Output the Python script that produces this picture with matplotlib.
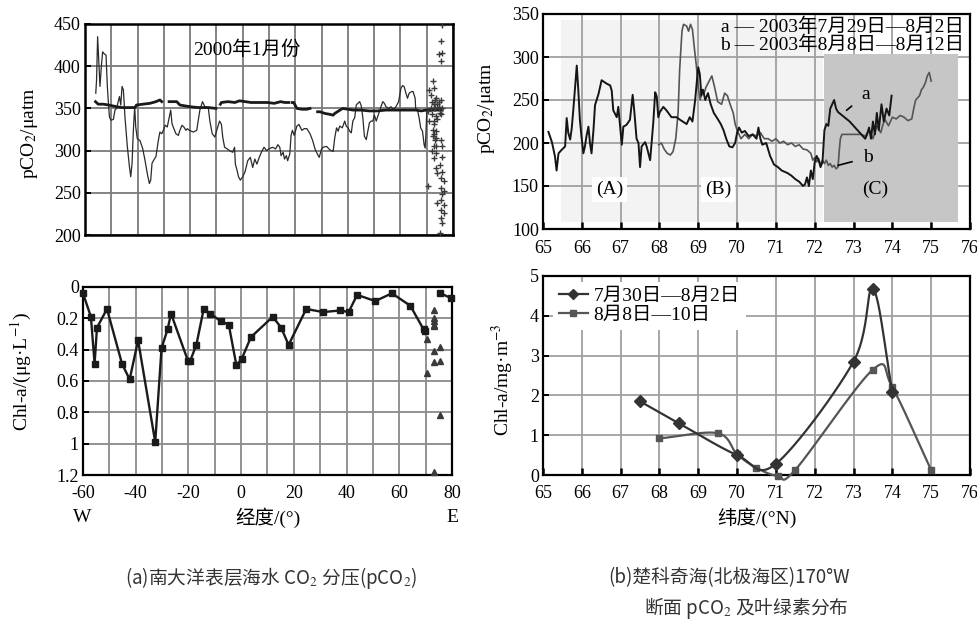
import numpy as np
import matplotlib
matplotlib.use('Agg')
import matplotlib.pyplot as plt
from matplotlib.lines import Line2D
from matplotlib.patches import Rectangle

plt.rcParams['font.family'] = ['Liberation Serif', 'Noto Sans CJK SC', 'DejaVu Sans']
plt.rcParams['mathtext.fontset'] = 'stix'
plt.rcParams['axes.unicode_minus'] = False

MIX = ['Liberation Serif', 'Noto Sans CJK SC']
CJK = 'Noto Sans CJK SC'

# ---------------- (a) Southern Ocean, January 2000 ----------------
# seawater pCO2 along the cruise track (thin trace)
sw_lon = [-55.9, -55.6, -55.2, -54.7, -54.3, -53.8, -53.3, -52.8, -52.0, -51.5,
          -51.0, -50.7, -50.2, -49.2, -48.6, -48.0, -46.9, -46.4, -45.9, -45.4,
          -44.8, -43.9, -43.1, -42.6, -42.1, -41.6, -41.1, -40.7, -40.1, -39.1,
          -38.1, -37.2, -36.2, -35.5, -35.0, -34.5, -33.8, -33.0, -32.1, -31.5,
          -30.8, -30.2, -29.5, -28.7, -27.9, -27.4, -26.9, -26.2, -25.4, -24.5,
          -23.9, -23.1, -22.4, -21.6, -21.1, -20.3, -18.8, -17.5, -16.9, -16.3,
          -15.3, -14.4, -13.1, -12.5, -11.6, -10.6, -9.6, -8.8, -8.1, -7.6,
          -6.9, -5.9, -5.0, -3.8, -3.1, -2.8, -2.1, -1.6, -0.9, 0.0,
          0.9, 1.9, 2.9, 3.8, 4.6, 5.4, 6.3, 7.1, 8.1, 9.1,
          10.0, 11.3, 12.5, 13.4, 14.1, 14.6, 15.4, 15.9, 16.6, 17.1,
          17.9, 18.4, 18.9, 19.6, 20.6, 21.4, 22.5, 23.4, 24.4, 25.6,
          26.6, 27.5, 28.4, 29.1, 30.0, 30.6, 31.9, 33.1, 34.4, 35.0,
          35.7, 36.3, 36.9, 37.9, 38.8, 39.4, 40.1, 40.7, 41.3, 41.9,
          42.6, 43.2, 43.8, 44.5, 45.1, 45.7, 46.3, 47.0, 47.6, 48.2,
          48.9, 49.5, 50.1, 50.8, 51.4, 52.0, 52.6, 53.3, 53.9, 54.5,
          55.5, 56.4, 57.3, 58.3, 59.3, 60.2, 60.8, 61.4, 62.1, 62.7,
          63.3, 64.3, 64.8, 65.6, 65.8, 66.5, 67.1, 67.7, 68.4, 69.0,
          69.4, 69.7, 70.0, 70.5]
sw_pco2 = [368, 384, 435, 403, 376, 399, 417, 415, 413, 376,
           352, 340, 336, 337, 348, 350, 364, 354, 376, 372,
           340, 305, 281, 269, 285, 324, 352, 328, 314, 312,
           303, 289, 271, 261, 265, 285, 289, 293, 312, 322,
           320, 324, 330, 328, 340, 348, 332, 326, 320, 318,
           324, 330, 328, 324, 326, 324, 322, 324, 336, 348,
           358, 352, 351, 335, 320, 316, 327, 335, 331, 316,
           304, 302, 300, 298, 304, 284, 276, 269, 265, 269,
           275, 288, 292, 280, 290, 284, 292, 298, 304, 300,
           302, 304, 302, 307, 304, 294, 298, 290, 294, 288,
           296, 318, 324, 318, 329, 331, 324, 326, 326, 320,
           312, 302, 296, 292, 302, 304, 305, 301, 299, 315,
           327, 323, 329, 327, 335, 329, 327, 323, 321, 335,
           339, 354, 356, 358, 353, 339, 317, 313, 323, 333,
           335, 335, 342, 335, 341, 346, 352, 358, 356, 352,
           350, 352, 349, 352, 358, 374, 377, 376, 368, 362,
           368, 370, 370, 362, 350, 348, 339, 327, 323, 307,
           303, 320, 345, 350]

# atmospheric pCO2 (thick trace, gaps where no record)
air_lon = [-56.0, -55.0, -53.0, -51.0, -48.0, -46.0, -43.0, -41.0, -40.4, -38.0,
           -35.3, -33.0, -31.5, -30.8, np.nan,
           -28.0, -27.0, -25.1, -23.9, -22.0, -20.0, -17.0, -15.6, -13.0, -10.2, np.nan,
           -8.5, -8.1, -5.6, -3.0, -1.2, 1.0, 3.1, 6.0, 9.4, 12.0, 14.4, 16.0, 17.5, np.nan,
           18.8, 19.4, 20.6, 22.5, 24.4, 25.6, np.nan,
           28.5, 29.4, 31.3, 33.1, 34.4, 35.0, 38.0, 42.0, 45.0, 48.2, 51.0, 54.5,
           57.0, 59.6, 62.0, 65.8, 68.0, 69.6, 72.0, 75.9]
air_pco2 = [358, 355, 355, 354, 352, 351, 351, 351, 354, 355,
            356, 358, 360, 358, np.nan,
            358, 358, 358, 354, 353, 352, 351, 351, 351, 350, np.nan,
            355, 357, 358, 357, 359, 358, 357, 357, 357, 356, 358, 357, 357, np.nan,
            357, 357, 350, 349, 349, 350, np.nan,
            346, 346, 344, 343, 342, 344, 350, 348, 348, 347, 347, 348,
            348, 348, 348, 348, 347, 348, 348, 348]

# discrete samples near the eastern end
pt_lon = [75.75, 75.4, 74.5, 76.0, 75.4, 72.25, 72.9, 71.0, 71.6, 73.5,
          74.75, 75.4, 74.1, 72.6, 71.6, 73.1, 74.75, 76.0, 70.4, 72.0,
          73.5, 75.4, 71.0, 74.1, 72.6, 73.5, 72.25, 73.1, 75.4, 72.9,
          76.0, 71.9, 73.5, 72.9, 76.0, 75.1, 73.5, 76.0, 74.1, 75.6,
          76.4, 70.6, 75.4, 76.6, 76.0, 75.6, 74.1, 76.4, 75.4, 76.4,
          75.6, 76.0, 75.1, 72.6, 72.6, 72.6, 73.5, 73.5, 72.25, 74.5,
          75.0, 73.0, 72.0]
pt_pco2 = [449, 430, 414, 416, 406, 382, 374, 372, 366, 362,
           358, 360, 355, 355, 350, 350, 350, 350, 347, 343,
           341, 343, 335, 337, 331, 323, 317, 313, 313, 305,
           305, 299, 297, 291, 293, 283, 279, 275, 274, 268,
           264, 258, 256, 252, 248, 242, 238, 236, 230, 226,
           220, 214, 202, 320, 335, 350, 305, 315, 325, 352,
           345, 360, 357]

# chlorophyll-a along the same section
chl_lon = [-60, -57, -55.6, -54.7, -50.9, -45.2, -42.3, -39.1, -32.6, -30.2,
           -27.9, -26.6, -20.2, -19.3, -17, -14.2, -11.7, -7.6, -4.7, -1.8,
           0.2, 3.7, 12, 15.2, 18, 24.7, 31, 37.6, 40.8, 44,
           50.9, 57.2, 64.2, 69.2, 69.6]
chl_val = [0.04, 0.19, 0.49, 0.26, 0.14, 0.49, 0.59, 0.34, 0.99, 0.39,
           0.27, 0.17, 0.47, 0.47, 0.37, 0.14, 0.17, 0.22, 0.24, 0.50,
           0.46, 0.32, 0.19, 0.26, 0.37, 0.14, 0.16, 0.15, 0.16, 0.05,
           0.09, 0.04, 0.12, 0.27, 0.28]
chl_lon_e = [75.6, 79.5]
chl_val_e = [0.04, 0.07]
tri_lon = [73, 73, 73, 73, 73, 70.5, 73, 75.3, 73, 75.3, 70.5, 75.3, 73]
tri_val = [0.15, 0.20, 0.22, 0.24, 0.25, 0.33, 0.41, 0.38, 0.48, 0.47, 0.55, 0.82, 1.18]

# ---------------- (b) Chukchi Sea, 170°W section ----------------
lat_a = [65.14, 65.23, 65.31, 65.35, 65.40, 65.48, 65.57, 65.61, 65.65, 65.70,
         65.74, 65.78, 65.82, 65.87, 65.91, 65.95, 65.99, 66.04, 66.08, 66.12,
         66.17, 66.21, 66.25, 66.30, 66.34, 66.43, 66.51, 66.64, 66.73, 66.77,
         66.81, 66.90, 66.94, 66.98, 67.03, 67.07, 67.15, 67.24, 67.31, 67.35,
         67.41, 67.46, 67.50, 67.54, 67.63, 67.67, 67.76, 67.84, 67.89, 67.93,
         67.97, 68.01, 68.10, 68.18, 68.31, 68.44, 68.53, 68.60, 68.70, 68.78,
         68.85, 68.92, 68.97, 69.00, 69.04, 69.08, 69.12, 69.18, 69.25, 69.32,
         69.40, 69.50, 69.58, 69.65, 69.72, 69.80, 69.88, 69.95, 70.00, 70.05,
         70.12, 70.20, 70.30, 70.40, 70.50, 70.55, 70.60, 70.65, 70.75, 70.85,
         70.95, 71.05, 71.15, 71.30, 71.40, 71.50, 71.60, 71.70, 71.75, 71.80,
         71.85, 71.90, 71.95, 72.00, 72.05, 72.10, 72.15, 72.20, 72.25, 72.30,
         72.35, 72.40, 72.45, 72.50, 72.55, 72.60, 72.90, 73.20, 73.30, 73.35,
         73.40, 73.45, 73.50, 73.55, 73.60, 73.65, 73.72, 73.78, 73.85, 73.92,
         73.98]
pco2_a = [213, 201, 184, 168, 188, 192, 196, 229, 212, 204,
          217, 238, 261, 290, 261, 227, 208, 188, 196, 208,
          219, 200, 188, 215, 244, 257, 273, 269, 267, 261,
          238, 230, 242, 223, 198, 219, 221, 227, 256, 238,
          205, 200, 172, 196, 201, 196, 180, 223, 259, 254,
          230, 236, 242, 238, 230, 230, 227, 225, 222, 230,
          225, 250, 275, 288, 280, 255, 262, 250, 258, 245,
          235, 228, 222, 215, 205, 196, 195, 200, 212, 218,
          212, 214, 208, 210, 205, 218, 205, 198, 200, 185,
          175, 172, 168, 165, 162, 158, 155, 150, 152, 160,
          150, 168, 158, 178, 185, 180, 172, 178, 215, 222,
          220, 240, 245, 250, 240, 236, 225, 210, 205, 210,
          218, 205, 225, 210, 235, 215, 245, 225, 240, 232,
          255]

lat_b = [67.98, 68.05, 68.12, 68.20, 68.28, 68.35, 68.42, 68.48, 68.52, 68.58,
         68.62, 68.70, 68.75, 68.80, 68.85, 68.90, 68.95, 69.00, 69.05, 69.10,
         69.15, 69.20, 69.28, 69.35, 69.42, 69.50, 69.60, 69.68, 69.75, 69.82,
         69.90, 69.95, 70.00, 70.05, 70.10, 70.20, 70.30, 70.40, 70.50, 70.60,
         70.70, 70.80, 70.90, 71.00, 71.10, 71.20, 71.30, 71.40, 71.50, 71.60,
         71.70, 71.80, 71.90, 71.95, 72.00, 72.05, 72.10, 72.15, 72.20, 72.25,
         72.30, 72.35, 72.40, 72.45, 72.50, 72.55, 72.60, 72.63, 72.66, 72.70,
         72.80, 73.00, 73.20, 73.30, 73.40, 73.50, 73.60, 73.70, 73.80, 73.90,
         74.00, 74.10, 74.20, 74.30, 74.40, 74.50, 74.55, 74.60, 74.70, 74.75,
         74.80, 74.85, 74.90, 74.95, 75.00]
pco2_b = [198, 200, 193, 188, 186, 190, 205, 235, 285, 330,
          338, 336, 330, 338, 332, 310, 290, 265, 250, 262,
          258, 265, 272, 278, 265, 248, 245, 258, 255, 245,
          235, 222, 215, 210, 205, 210, 205, 210, 208, 212,
          205, 205, 202, 205, 200, 202, 198, 200, 196, 198,
          193, 192, 188, 180, 183, 178, 182, 175, 180, 176,
          180, 174, 176, 172, 174, 170, 172, 190, 205, 210,
          210, 210, 210, 208, 215, 205, 220, 212, 228, 220,
          230, 228, 232, 230, 226, 228, 240, 250, 255, 262,
          265, 270, 278, 282, 272]

# chlorophyll-a at the stations
st_lat_1 = [67.5, 68.5, 70.0, 71.0, 73.0, 73.5, 74.0]
st_chl_1 = [1.85, 1.30, 0.50, 0.28, 2.85, 4.68, 2.08]
st_lat_2 = [68.0, 69.5, 70.0, 70.5, 71.05, 71.5, 73.5, 74.0, 75.0]
st_chl_2 = [0.92, 1.05, 0.52, 0.18, -0.02, 0.13, 2.65, 2.20, 0.12]

assert len(sw_lon) == len(sw_pco2), (len(sw_lon), len(sw_pco2))
assert len(air_lon) == len(air_pco2), (len(air_lon), len(air_pco2))
assert len(pt_lon) == len(pt_pco2), (len(pt_lon), len(pt_pco2))
assert len(chl_lon) == len(chl_val)
assert len(lat_a) == len(pco2_a), (len(lat_a), len(pco2_a))
assert len(lat_b) == len(pco2_b), (len(lat_b), len(pco2_b))


def smooth(x, y, n=40):
    """Catmull-Rom curve through the station values."""
    x = np.asarray(x, float)
    y = np.asarray(y, float)
    px = np.concatenate([[2 * x[0] - x[1]], x, [2 * x[-1] - x[-2]]])
    py = np.concatenate([[2 * y[0] - y[1]], y, [2 * y[-1] - y[-2]]])
    t = np.linspace(0, 1, n, endpoint=False)
    xs, ys = [], []
    for i in range(1, len(px) - 2):
        for arr, out in ((px, xs), (py, ys)):
            p0, p1, p2, p3 = arr[i - 1:i + 3]
            out.append(0.5 * (2 * p1 + (-p0 + p2) * t
                              + (2 * p0 - 5 * p1 + 4 * p2 - p3) * t ** 2
                              + (-p0 + 3 * p1 - 3 * p2 + p3) * t ** 3))
    xs.append([x[-1]])
    ys.append([y[-1]])
    return np.concatenate(xs), np.concatenate(ys)


W, H = 978, 624
fig = plt.figure(figsize=(W / 100, H / 100), dpi=100)


def box(l, t, r, b):
    return [l / W, 1 - b / H, (r - l) / W, (b - t) / H]


TICK_FS = 13
LAB_FS = 14


def style(ax, grid_color, spine_w=1.6):
    for s in ax.spines.values():
        s.set_linewidth(spine_w)
        s.set_color('black')
    ax.grid(True, color=grid_color, lw=1.3)
    ax.set_axisbelow(True)
    ax.tick_params(direction='in', length=4, width=1.4, labelsize=TICK_FS,
                   pad=3, colors='black')
    for lab in ax.get_xticklabels() + ax.get_yticklabels():
        lab.set_family('Liberation Serif')


# ---- top-left: pCO2 ----
ax1 = fig.add_axes(box(85, 24, 453, 235))
ax1.plot(sw_lon, sw_pco2, color='#2a2a2a', lw=0.9, zorder=3)
ax1.plot(air_lon, air_pco2, color='#1a1a1a', lw=2.0, zorder=4)
ax1.plot(pt_lon, pt_pco2, ls='none', marker='+', ms=5, mew=1.0, color='#3a3a3a', zorder=5)
ax1.set_xlim(-60, 80)
ax1.set_ylim(200, 450)
ax1.set_xticks(np.arange(-60, 81, 10))
ax1.set_yticks(np.arange(200, 451, 50))
ax1.set_xticklabels([])
style(ax1, '#7a7a7a', 1.8)
ax1.tick_params(axis='x', length=0)
ax1.text(1.6, 419, '2000年1月份', family=MIX, fontsize=14, ha='center', va='center')

# ---- bottom-left: Chl-a ----
ax2 = fig.add_axes(box(83, 287, 452, 475))
ax2.plot(chl_lon, chl_val, color='#1a1a1a', lw=1.7, marker='s', ms=4.5, zorder=4, clip_on=False)
ax2.plot(chl_lon_e, chl_val_e, color='#1a1a1a', lw=1.7, marker='s', ms=4.5, zorder=4, clip_on=False)
ax2.plot(tri_lon, tri_val, ls='none', marker='^', ms=4.5, color='#3a3a3a', zorder=5, clip_on=False)
ax2.set_xlim(-60, 80)
ax2.set_ylim(1.2, 0)
ax2.set_xticks(np.arange(-60, 81, 10))
ax2.set_xticklabels([str(v) if v % 20 == 0 else '' for v in range(-60, 81, 10)])
ax2.set_yticks([0, 0.2, 0.4, 0.6, 0.8, 1.0, 1.2])
ax2.set_yticklabels(['0', '0.2', '0.4', '0.6', '0.8', '1', '1.2'])
style(ax2, '#8a8a8a', 1.6)
ax2.tick_params(axis='x', length=0, pad=7)

# ---- top-right: Chukchi pCO2 ----
ax3 = fig.add_axes(box(543, 14, 970, 229))
ax3.add_patch(Rectangle((65.47, 108), 72.22 - 65.47, 343 - 108, color='#f3f3f3', zorder=0.5, lw=0))
ax3.add_patch(Rectangle((72.24, 108), 75.7 - 72.24, 304 - 108, color='#c6c6c6', zorder=0.6, lw=0))
ax3.plot(lat_b, pco2_b, color='#555555', lw=1.2, zorder=3)
ax3.plot(lat_a, pco2_a, color='#151515', lw=1.4, zorder=4)
ax3.set_xlim(65, 76)
ax3.set_ylim(100, 350)
ax3.set_xticks(np.arange(65, 77, 1))
ax3.set_yticks(np.arange(100, 351, 50))
style(ax3, '#a0a0a0', 1.6)
ax3.tick_params(axis='x', length=5, width=1.8, pad=8)
ax3.text(75.85, 335, 'a — 2003年7月29日—8月2日', family=MIX, fontsize=14,
         ha='right', va='center', zorder=6)
ax3.text(75.85, 314, 'b — 2003年8月8日—8月12日', family=MIX, fontsize=14,
         ha='right', va='center', zorder=6)
ax3.annotate('a', xy=(72.82, 238), xytext=(73.3, 256), fontsize=14, family='Liberation Serif',
             ha='center', va='center', zorder=7,
             arrowprops=dict(arrowstyle='-', color='black', lw=1.2, shrinkB=0, shrinkA=6))
ax3.annotate('b', xy=(72.6, 174), xytext=(73.37, 183), fontsize=14, family='Liberation Serif',
             ha='center', va='center', zorder=7,
             arrowprops=dict(arrowstyle='-', color='black', lw=1.2, shrinkB=0, shrinkA=6))
for lx, lab, bg in ((66.72, '(A)', 'white'), (69.51, '(B)', 'white'), (73.55, '(C)', 'none')):
    ax3.text(lx, 146, lab, fontsize=14, family='Liberation Serif', ha='center', va='center',
             zorder=6, bbox=dict(facecolor=bg, edgecolor='none', pad=3))

# ---- bottom-right: Chukchi Chl-a ----
ax4 = fig.add_axes(box(543, 276, 970, 475))
sx1, sy1 = smooth(st_lat_1, st_chl_1)
sx2, sy2 = smooth(st_lat_2, st_chl_2)
ax4.plot(sx2, sy2, color='#555555', lw=1.6, zorder=3, clip_on=False)
ax4.plot(st_lat_2, st_chl_2, ls='none', marker='s', ms=4, color='#555555', zorder=3, clip_on=False)
ax4.plot(sx1, sy1, color='#333333', lw=1.6, zorder=4)
ax4.plot(st_lat_1, st_chl_1, ls='none', marker='D', ms=6, color='#333333', zorder=4)
ax4.set_xlim(65, 76)
ax4.set_ylim(0, 5)
ax4.set_xticks(np.arange(65, 77, 1))
ax4.set_yticks(np.arange(0, 6, 1))
style(ax4, '#a0a0a0', 1.6)
ax4.tick_params(axis='x', length=5, width=1.8, pad=7)
handles = [Line2D([], [], color='#333333', lw=1.6, marker='D', ms=5.5),
           Line2D([], [], color='#555555', lw=1.6, marker='s', ms=4)]
leg = ax4.legend(handles, ['7月30日—8月2日', '8月8日—10日'], loc='upper left',
                 bbox_to_anchor=(0.0, 1.02), frameon=True, framealpha=1, edgecolor='none',
                 fancybox=False, handlelength=1.5, handletextpad=0.3, labelspacing=0.05,
                 borderpad=0.3, prop={'family': MIX, 'size': 14})
leg.set_zorder(6)

# ---- axis titles ----
fig.text(30 / W, 1 - 133 / H, 'pCO$_2$/μatm', rotation=90, fontsize=LAB_FS,
         family='Liberation Serif', ha='center', va='center')
fig.text(21 / W, 1 - 372 / H, 'Chl-a/(μg·L$^{-1}$)', rotation=90, fontsize=LAB_FS,
         family='Liberation Serif', ha='center', va='center')
fig.text(487 / W, 1 - 108 / H, 'pCO$_2$/μatm', rotation=90, fontsize=LAB_FS,
         family='Liberation Serif', ha='center', va='center')
fig.text(503 / W, 1 - 380 / H, 'Chl-a/mg·m$^{-3}$', rotation=90, fontsize=LAB_FS,
         family='Liberation Serif', ha='center', va='center')

fig.text(82 / W, 1 - 518 / H, 'W', fontsize=LAB_FS, family='Liberation Serif', ha='center', va='center')
fig.text(452 / W, 1 - 518 / H, 'E', fontsize=LAB_FS, family='Liberation Serif', ha='center', va='center')
fig.text(268 / W, 1 - 518 / H, '经度/(°)', fontsize=LAB_FS, family=MIX, ha='center', va='center')
fig.text(757 / W, 1 - 518 / H, '纬度/(°N)', fontsize=LAB_FS, family=MIX, ha='center', va='center')

# ---- captions ----
fig.text(271 / W, 1 - 578 / H, '(a)南大洋表层海水 CO$_2$ 分压(pCO$_2$)', fontsize=13.5,
         family=CJK, color='#333333', ha='center', va='center')
fig.text(729 / W, 1 - 578 / H, '(b)楚科奇海(北极海区)170°W', fontsize=13.5,
         family=CJK, color='#333333', ha='center', va='center')
fig.text(746 / W, 1 - 608 / H, '断面 pCO$_2$ 及叶绿素分布', fontsize=13.5,
         family=CJK, color='#333333', ha='center', va='center')

fig.savefig('out.png', dpi=100)
